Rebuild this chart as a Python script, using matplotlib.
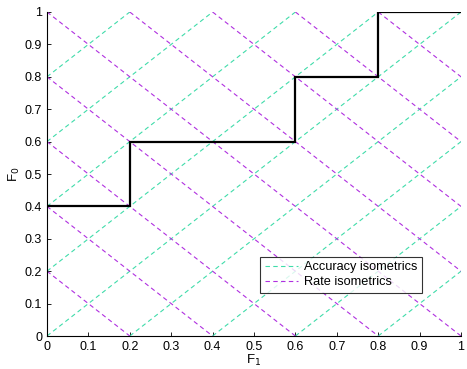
import matplotlib
matplotlib.use("Agg")
import matplotlib.pyplot as plt
import numpy as np

# data
step_x = [0, 0.2, 0.2, 0.6, 0.6, 0.8, 0.8, 1.0]
step_y = [0.4, 0.4, 0.6, 0.6, 0.8, 0.8, 1.0, 1.0]
acc_offsets = [-0.8, -0.6, -0.4, -0.2, 0.0, 0.2, 0.4, 0.6, 0.8]   # F0 = F1 + c
rate_offsets = [0.2, 0.4, 0.6, 0.8, 1.0, 1.2, 1.4, 1.6, 1.8]     # F0 = c - F1
ticks = [0, 0.1, 0.2, 0.3, 0.4, 0.5, 0.6, 0.7, 0.8, 0.9, 1]
tick_labels = ["0", "0.1", "0.2", "0.3", "0.4", "0.5", "0.6", "0.7", "0.8", "0.9", "1"]

plt.rcParams['font.family'] = ['Liberation Sans', 'DejaVu Sans']
fig = plt.figure(figsize=(4.67, 3.69), dpi=100)
ax = fig.add_axes([0.1006, 0.0894, 0.8866, 0.8781])

acc_color = "#40DCAA"
rate_color = "#B030E0"
dash = (0, (4, 3))

for i, c in enumerate(acc_offsets):
    x0 = max(0, -c); x1 = min(1, 1 - c)
    ax.plot([x0, x1], [x0 + c, x1 + c], color=acc_color, lw=0.8, linestyle=dash,
            label="Accuracy isometrics" if i == 0 else None)
for i, c in enumerate(rate_offsets):
    x0 = max(0, c - 1); x1 = min(1, c)
    ax.plot([x0, x1], [c - x0, c - x1], color=rate_color, lw=0.8, linestyle=dash,
            label="Rate isometrics" if i == 0 else None)

ax.plot(step_x, step_y, color="black", lw=1.6, solid_joinstyle='miter')

ax.set_xlim(0, 1)
ax.set_ylim(0, 1)
ax.set_xticks(ticks)
ax.set_xticklabels(tick_labels)
ax.set_yticks(ticks)
ax.set_yticklabels(tick_labels)
ax.tick_params(direction='in', labelsize=9, length=3, width=0.6)
ax.spines['top'].set_visible(False)
ax.spines['right'].set_visible(False)
ax.spines['left'].set_linewidth(0.8)
ax.spines['bottom'].set_linewidth(0.8)
ax.set_xlabel("F$_1$", fontsize=9.5, labelpad=0)
ax.set_ylabel("F$_0$", fontsize=9.5, labelpad=2)

leg = ax.legend(loc='lower right', bbox_to_anchor=(0.906, 0.133), fontsize=9.2,
                frameon=True, fancybox=False, edgecolor='black', borderpad=0.35,
                handlelength=2.6, handletextpad=0.5, labelspacing=0.25, borderaxespad=0)
leg.get_frame().set_linewidth(0.8)

fig.savefig("out.png", dpi=100)
